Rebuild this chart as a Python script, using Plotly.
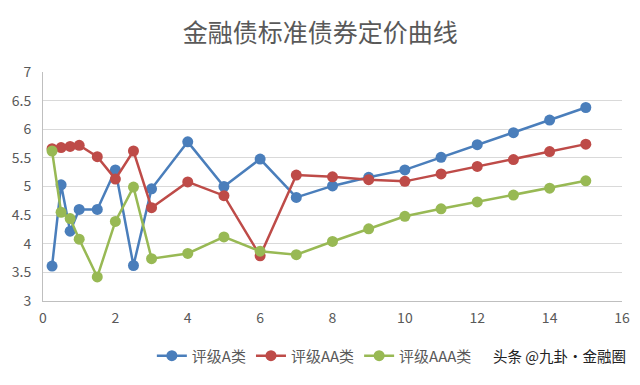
import plotly.graph_objects as go

tenor = [0.25, 0.5, 0.75, 1, 1.5, 2, 2.5, 3, 4, 5, 6, 7, 8, 9, 10, 11, 12, 13, 14, 15]
rating_a = [3.61, 5.03, 4.22, 4.60, 4.60, 5.29, 3.62, 4.96, 5.78, 5.00, 5.48, 4.81, 5.01, 5.16, 5.29, 5.51, 5.73, 5.94, 6.16, 6.38]
rating_aa = [5.66, 5.68, 5.70, 5.72, 5.52, 5.13, 5.62, 4.63, 5.08, 4.84, 3.79, 5.20, 5.17, 5.12, 5.09, 5.22, 5.35, 5.47, 5.61, 5.74]
rating_aaa = [5.62, 4.55, 4.44, 4.08, 3.42, 4.39, 4.99, 3.74, 3.83, 4.12, 3.87, 3.81, 4.04, 4.26, 4.48, 4.61, 4.73, 4.85, 4.97, 5.10]
series_names = ["评级A类", "评级AA类", "评级AAA类"]
colors = ["#4A7EBB", "#BE4B48", "#98B954"]

font_family = "Noto Sans CJK SC, Noto Sans, sans-serif"

fig = go.Figure()
for name, vals, c in zip(series_names, [rating_a, rating_aa, rating_aaa], colors):
    fig.add_trace(go.Scatter(
        x=tenor, y=vals, name=name, mode="lines+markers",
        line=dict(color=c, width=2.5),
        marker=dict(color=c, size=11),
    ))

fig.update_layout(
    width=632, height=377,
    paper_bgcolor="white", plot_bgcolor="white",
    margin=dict(l=35, r=18, t=64, b=84, autoexpand=False),
    font=dict(family=font_family, color="#595959", size=14),
    title=dict(text="金融债标准债券定价曲线", x=0.494, xanchor="center",
               y=0.934, yanchor="middle",
               font=dict(size=25, color="#595959", family=font_family)),
    xaxis=dict(range=[0, 16], dtick=2, showgrid=False, zeroline=False,
               showline=True, linecolor="#BFBFBF", linewidth=1, automargin=False,
               ticks="", ticklabelstandoff=4, tickfont=dict(size=14, color="#595959")),
    yaxis=dict(range=[3, 7], dtick=0.5, showgrid=True, gridcolor="#D9D9D9",
               gridwidth=1, zeroline=False, showline=True, linecolor="#BFBFBF",
               linewidth=1, automargin=False, ticks="", ticklabelstandoff=8,
               tickfont=dict(size=14, color="#595959")),
    legend=dict(orientation="h", x=0.188, xanchor="left", y=-0.24, yanchor="middle",
                font=dict(size=15, color="#595959"), itemwidth=30,
                tracegroupgap=0),
    showlegend=True,
)

fig.add_annotation(text="头条 @九卦·金融圈", xref="paper", yref="paper",
                   x=1.01, xanchor="right", y=-0.24, yanchor="middle",
                   showarrow=False, font=dict(size=14.5, color="#222222", family=font_family))

fig.write_html("out.html")
